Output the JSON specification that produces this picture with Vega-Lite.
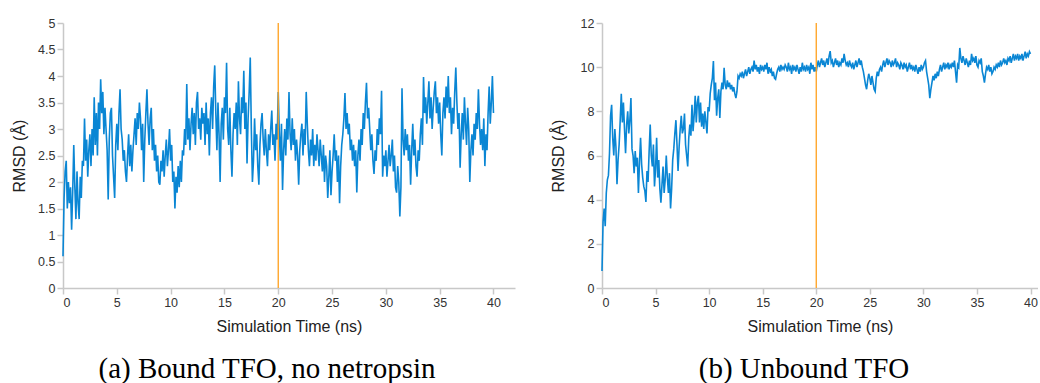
{
"$schema":"https://vega.github.io/schema/vega-lite/v6.json",
"padding":{"left":11,"top":17,"right":0,"bottom":0},
"background":"white",
"spacing":35,
"config":{"view":{"stroke":null},
"axis":{"grid":false,"domainColor":"#c8c8c8","domainWidth":1.5,"tickColor":"#c8c8c8","tickSize":6,"tickWidth":1.5,"labelFont":"Liberation Sans","labelFontSize":12.5,"labelColor":"#333333","labelPadding":2,"titleFont":"Liberation Sans","titleFontSize":16,"titleFontWeight":"normal","titleColor":"#222222"},
"title":{"font":"Liberation Serif","fontSize":29,"fontWeight":"normal","color":"#000000","orient":"bottom","offset":20}},
"datasets":{"marker":[{"t":20}],"rmsd":[
{"t":0,"a":0.6,"b":0.77},{"t":0.1,"a":1.7,"b":3.0},{"t":0.2,"a":2.2,"b":3.6},{"t":0.3,"a":2.4,"b":2.8},{"t":0.4,"a":1.5,"b":4.3},{"t":0.5,"a":2.0,"b":4.9},{"t":0.6,"a":1.6,"b":5.1},{"t":0.7,"a":1.9,"b":6.1},{"t":0.8,"a":1.1,"b":7.8},{"t":0.9,"a":1.8,"b":8.3},
{"t":1,"a":2.7,"b":6.8},{"t":1.1,"a":1.9,"b":6.0},{"t":1.2,"a":1.3,"b":7.2},{"t":1.3,"a":2.2,"b":6.4},{"t":1.4,"a":1.6,"b":4.7},{"t":1.5,"a":1.3,"b":5.8},{"t":1.6,"a":2.1,"b":6.5},{"t":1.7,"a":1.7,"b":7.6},{"t":1.8,"a":2.4,"b":8.8},{"t":1.9,"a":2.3,"b":7.5},
{"t":2,"a":3.2,"b":8.4},{"t":2.1,"a":2.4,"b":7.2},{"t":2.2,"a":2.8,"b":6.1},{"t":2.3,"a":2.1,"b":7.4},{"t":2.4,"a":2.6,"b":8.0},{"t":2.5,"a":2.9,"b":7.0},{"t":2.6,"a":2.3,"b":7.6},{"t":2.7,"a":3.0,"b":8.6},{"t":2.8,"a":2.5,"b":6.3},{"t":2.9,"a":3.6,"b":6.0},
{"t":3,"a":2.7,"b":5.2},{"t":3.1,"a":3.3,"b":6.2},{"t":3.2,"a":2.5,"b":5.5},{"t":3.3,"a":3.5,"b":5.9},{"t":3.4,"a":3.0,"b":4.3},{"t":3.5,"a":3.94,"b":5.7},{"t":3.6,"a":3.3,"b":6.8},{"t":3.7,"a":3.7,"b":5.6},{"t":3.8,"a":2.9,"b":5.0},{"t":3.9,"a":3.4,"b":4.6},
{"t":4,"a":3.0,"b":4.4},{"t":4.1,"a":2.6,"b":3.9},{"t":4.2,"a":1.67,"b":5.3},{"t":4.3,"a":2.8,"b":4.8},{"t":4.4,"a":3.3,"b":6.2},{"t":4.5,"a":3.4,"b":7.4},{"t":4.6,"a":2.5,"b":6.0},{"t":4.7,"a":2.1,"b":5.5},{"t":4.8,"a":1.7,"b":6.5},{"t":4.9,"a":2.7,"b":4.6},
{"t":5,"a":3.1,"b":5.4},{"t":5.1,"a":2.6,"b":6.8},{"t":5.2,"a":3.3,"b":5.0},{"t":5.3,"a":3.75,"b":5.8},{"t":5.4,"a":3.0,"b":4.5},{"t":5.5,"a":2.8,"b":3.86},{"t":5.6,"a":2.4,"b":4.7},{"t":5.7,"a":2.6,"b":5.5},{"t":5.8,"a":2.2,"b":4.3},{"t":5.9,"a":2.0,"b":4.9},
{"t":6,"a":2.5,"b":6.0},{"t":6.1,"a":2.9,"b":5.0},{"t":6.2,"a":2.3,"b":4.3},{"t":6.3,"a":2.7,"b":5.2},{"t":6.4,"a":2.2,"b":3.6},{"t":6.5,"a":2.6,"b":4.5},{"t":6.6,"a":2.9,"b":5.8},{"t":6.7,"a":3.2,"b":6.3},{"t":6.8,"a":2.7,"b":7.0},{"t":6.9,"a":3.3,"b":7.6},
{"t":7,"a":3.0,"b":6.5},{"t":7.1,"a":3.5,"b":5.3},{"t":7.2,"a":3.2,"b":6.4},{"t":7.3,"a":2.6,"b":7.2},{"t":7.4,"a":3.1,"b":7.8},{"t":7.5,"a":2.0,"b":7.0},{"t":7.6,"a":2.8,"b":7.2},{"t":7.7,"a":3.3,"b":7.9},{"t":7.8,"a":3.75,"b":6.5},{"t":7.9,"a":3.1,"b":6.0},
{"t":8,"a":2.7,"b":5.5},{"t":8.1,"a":3.2,"b":6.8},{"t":8.2,"a":3.4,"b":7.4},{"t":8.3,"a":2.6,"b":6.9},{"t":8.4,"a":3.0,"b":8.3},{"t":8.5,"a":2.4,"b":7.1},{"t":8.6,"a":2.7,"b":7.8},{"t":8.7,"a":2.2,"b":8.7},{"t":8.8,"a":2.5,"b":7.5},{"t":8.9,"a":2.0,"b":8.4},
{"t":9,"a":1.95,"b":8.7},{"t":9.1,"a":2.4,"b":7.5},{"t":9.2,"a":2.2,"b":8.4},{"t":9.3,"a":2.6,"b":7.3},{"t":9.4,"a":2.1,"b":7.9},{"t":9.5,"a":2.5,"b":7.2},{"t":9.6,"a":2.8,"b":8.0},{"t":9.7,"a":2.3,"b":7.5},{"t":9.8,"a":2.6,"b":7.0},{"t":9.9,"a":3.0,"b":8.2},
{"t":10,"a":2.4,"b":8.0},{"t":10.1,"a":2.7,"b":8.8},{"t":10.2,"a":2.0,"b":9.2},{"t":10.3,"a":2.2,"b":9.5},{"t":10.4,"a":1.5,"b":10.28},{"t":10.5,"a":2.1,"b":8.5},{"t":10.6,"a":1.8,"b":9.3},{"t":10.7,"a":2.3,"b":7.8},{"t":10.8,"a":1.9,"b":8.6},{"t":10.9,"a":2.4,"b":9.0},
{"t":11,"a":2.0,"b":7.7},{"t":11.1,"a":2.6,"b":8.9},{"t":11.2,"a":2.5,"b":9.3},{"t":11.3,"a":3.0,"b":9.0},{"t":11.4,"a":2.7,"b":9.97},{"t":11.5,"a":3.85,"b":9.2},{"t":11.6,"a":2.8,"b":9.0},{"t":11.7,"a":3.2,"b":9.4},{"t":11.8,"a":2.6,"b":9.1},{"t":11.9,"a":3.1,"b":9.3},
{"t":12,"a":3.4,"b":9.0},{"t":12.1,"a":2.9,"b":9.2},{"t":12.2,"a":3.3,"b":8.9},{"t":12.3,"a":2.7,"b":9.1},{"t":12.4,"a":3.5,"b":8.8},{"t":12.5,"a":3.7,"b":8.6},{"t":12.6,"a":3.0,"b":8.9},{"t":12.7,"a":3.2,"b":9.6},{"t":12.8,"a":2.8,"b":9.5},{"t":12.9,"a":3.4,"b":9.7},
{"t":13,"a":3.1,"b":9.6},{"t":13.1,"a":3.3,"b":9.8},{"t":13.2,"a":2.7,"b":9.5},{"t":13.3,"a":3.5,"b":9.7},{"t":13.4,"a":2.9,"b":9.9},{"t":13.5,"a":3.2,"b":9.6},{"t":13.6,"a":2.5,"b":9.8},{"t":13.7,"a":3.3,"b":10.0},{"t":13.8,"a":3.6,"b":9.7},{"t":13.9,"a":3.0,"b":9.9},
{"t":14,"a":3.8,"b":10.0},{"t":14.1,"a":4.2,"b":9.8},{"t":14.2,"a":3.3,"b":10.3},{"t":14.3,"a":2.6,"b":9.9},{"t":14.4,"a":3.5,"b":10.1},{"t":14.5,"a":2.9,"b":9.8},{"t":14.6,"a":2.0,"b":10.0},{"t":14.7,"a":3.1,"b":9.7},{"t":14.8,"a":3.4,"b":10.1},{"t":14.9,"a":2.8,"b":9.9},
{"t":15,"a":3.6,"b":10.0},{"t":15.1,"a":3.3,"b":9.8},{"t":15.2,"a":4.25,"b":10.1},{"t":15.3,"a":3.0,"b":9.9},{"t":15.4,"a":2.7,"b":10.2},{"t":15.5,"a":3.4,"b":9.7},{"t":15.6,"a":2.6,"b":10.0},{"t":15.7,"a":2.1,"b":9.8},{"t":15.8,"a":2.9,"b":9.9},{"t":15.9,"a":3.3,"b":9.6},
{"t":16,"a":3.0,"b":9.8},{"t":16.1,"a":3.5,"b":9.5},{"t":16.2,"a":2.7,"b":9.45},{"t":16.3,"a":3.9,"b":9.7},{"t":16.4,"a":3.2,"b":9.9},{"t":16.5,"a":2.9,"b":10.0},{"t":16.6,"a":3.6,"b":9.8},{"t":16.7,"a":3.3,"b":10.1},{"t":16.8,"a":4.1,"b":9.9},{"t":16.9,"a":3.0,"b":10.0},
{"t":17,"a":3.5,"b":9.9},{"t":17.1,"a":2.35,"b":10.1},{"t":17.2,"a":3.2,"b":10.0},{"t":17.3,"a":3.7,"b":9.8},{"t":17.4,"a":4.35,"b":10.2},{"t":17.5,"a":3.0,"b":9.9},{"t":17.6,"a":2.0,"b":10.0},{"t":17.7,"a":2.4,"b":9.7},{"t":17.8,"a":3.2,"b":10.1},{"t":17.9,"a":2.6,"b":9.9},
{"t":18,"a":2.9,"b":10.0},{"t":18.1,"a":2.3,"b":9.8},{"t":18.2,"a":1.95,"b":10.1},{"t":18.3,"a":2.7,"b":9.9},{"t":18.4,"a":3.1,"b":9.7},{"t":18.5,"a":3.3,"b":10.0},{"t":18.6,"a":2.8,"b":9.8},{"t":18.7,"a":2.5,"b":10.2},{"t":18.8,"a":3.0,"b":9.9},{"t":18.9,"a":2.6,"b":10.0},
{"t":19,"a":2.3,"b":9.8},{"t":19.1,"a":2.9,"b":10.1},{"t":19.2,"a":2.6,"b":9.9},{"t":19.3,"a":3.0,"b":10.0},{"t":19.4,"a":3.35,"b":9.7},{"t":19.5,"a":2.7,"b":10.2},{"t":19.6,"a":2.9,"b":9.9},{"t":19.7,"a":2.4,"b":10.1},{"t":19.8,"a":3.1,"b":9.8},{"t":19.9,"a":2.8,"b":10.0},
{"t":20,"a":3.7,"b":9.8},{"t":20.1,"a":2.9,"b":10.1},{"t":20.2,"a":2.4,"b":10.3},{"t":20.3,"a":3.1,"b":10.0},{"t":20.4,"a":1.85,"b":10.2},{"t":20.5,"a":2.6,"b":10.4},{"t":20.6,"a":3.0,"b":10.1},{"t":20.7,"a":2.5,"b":10.3},{"t":20.8,"a":3.2,"b":10.0},{"t":20.9,"a":2.8,"b":10.2},
{"t":21,"a":3.7,"b":10.4},{"t":21.1,"a":2.9,"b":10.1},{"t":21.2,"a":2.6,"b":10.5},{"t":21.3,"a":3.2,"b":10.73},{"t":21.4,"a":2.7,"b":10.2},{"t":21.5,"a":3.0,"b":10.3},{"t":21.6,"a":2.4,"b":10.0},{"t":21.7,"a":2.8,"b":10.2},{"t":21.8,"a":2.5,"b":10.4},{"t":21.9,"a":1.95,"b":10.1},
{"t":22,"a":2.6,"b":10.3},{"t":22.1,"a":2.9,"b":10.0},{"t":22.2,"a":3.1,"b":10.2},{"t":22.3,"a":2.5,"b":10.1},{"t":22.4,"a":3.0,"b":10.4},{"t":22.5,"a":2.7,"b":10.2},{"t":22.6,"a":3.7,"b":10.6},{"t":22.7,"a":3.1,"b":10.3},{"t":22.8,"a":2.6,"b":10.1},{"t":22.9,"a":2.3,"b":10.2},
{"t":23,"a":2.8,"b":10.0},{"t":23.1,"a":2.5,"b":10.3},{"t":23.2,"a":3.0,"b":10.1},{"t":23.3,"a":2.3,"b":10.0},{"t":23.4,"a":2.7,"b":10.2},{"t":23.5,"a":2.4,"b":9.9},{"t":23.6,"a":2.9,"b":10.1},{"t":23.7,"a":2.6,"b":10.3},{"t":23.8,"a":2.3,"b":10.0},{"t":23.9,"a":2.8,"b":10.2},
{"t":24,"a":2.5,"b":10.4},{"t":24.1,"a":2.2,"b":10.1},{"t":24.2,"a":2.7,"b":10.3},{"t":24.3,"a":2.0,"b":10.0},{"t":24.4,"a":2.5,"b":9.8},{"t":24.5,"a":2.3,"b":9.5},{"t":24.6,"a":1.7,"b":9.2},{"t":24.7,"a":2.1,"b":9.0},{"t":24.8,"a":2.6,"b":9.4},{"t":24.9,"a":1.75,"b":9.7},
{"t":25,"a":2.2,"b":9.5},{"t":25.1,"a":2.5,"b":9.2},{"t":25.2,"a":2.9,"b":9.6},{"t":25.3,"a":2.4,"b":9.3},{"t":25.4,"a":2.6,"b":9.0},{"t":25.5,"a":2.0,"b":8.9},{"t":25.6,"a":2.5,"b":9.5},{"t":25.7,"a":1.6,"b":9.8},{"t":25.8,"a":2.3,"b":9.6},{"t":25.9,"a":2.7,"b":9.9},
{"t":26,"a":2.9,"b":10.0},{"t":26.1,"a":3.2,"b":9.8},{"t":26.2,"a":3.68,"b":10.1},{"t":26.3,"a":3.0,"b":10.3},{"t":26.4,"a":3.3,"b":10.0},{"t":26.5,"a":2.9,"b":10.2},{"t":26.6,"a":3.1,"b":10.4},{"t":26.7,"a":2.6,"b":10.1},{"t":26.8,"a":2.8,"b":10.3},{"t":26.9,"a":2.4,"b":10.2},
{"t":27,"a":2.7,"b":10.0},{"t":27.1,"a":2.3,"b":10.3},{"t":27.2,"a":2.6,"b":10.1},{"t":27.3,"a":1.8,"b":10.2},{"t":27.4,"a":2.5,"b":10.4},{"t":27.5,"a":2.8,"b":10.0},{"t":27.6,"a":2.4,"b":10.2},{"t":27.7,"a":3.0,"b":10.1},{"t":27.8,"a":2.7,"b":9.9},{"t":27.9,"a":3.3,"b":10.2},
{"t":28,"a":3.0,"b":10.1},{"t":28.1,"a":3.5,"b":9.9},{"t":28.2,"a":3.87,"b":10.2},{"t":28.3,"a":3.2,"b":10.0},{"t":28.4,"a":3.4,"b":10.1},{"t":28.5,"a":3.0,"b":9.8},{"t":28.6,"a":2.6,"b":10.0},{"t":28.7,"a":2.9,"b":10.2},{"t":28.8,"a":2.4,"b":9.9},{"t":28.9,"a":2.15,"b":10.1},
{"t":29,"a":2.6,"b":9.9},{"t":29.1,"a":2.4,"b":10.0},{"t":29.2,"a":3.0,"b":9.8},{"t":29.3,"a":2.7,"b":10.1},{"t":29.4,"a":3.2,"b":9.9},{"t":29.5,"a":2.9,"b":9.7},{"t":29.6,"a":3.72,"b":10.0},{"t":29.7,"a":2.1,"b":9.8},{"t":29.8,"a":2.5,"b":10.1},{"t":29.9,"a":2.3,"b":9.9},
{"t":30,"a":2.6,"b":10.0},{"t":30.1,"a":2.1,"b":10.2},{"t":30.2,"a":2.4,"b":10.3},{"t":30.3,"a":2.7,"b":9.8},{"t":30.4,"a":2.3,"b":9.5},{"t":30.5,"a":2.5,"b":9.2},{"t":30.6,"a":2.8,"b":8.6},{"t":30.7,"a":2.2,"b":9.0},{"t":30.8,"a":2.5,"b":9.3},{"t":30.9,"a":1.9,"b":9.6},
{"t":31,"a":1.8,"b":9.4},{"t":31.1,"a":2.3,"b":9.7},{"t":31.2,"a":2.0,"b":9.5},{"t":31.3,"a":1.35,"b":9.8},{"t":31.4,"a":1.9,"b":9.6},{"t":31.5,"a":3.77,"b":9.9},{"t":31.6,"a":2.8,"b":10.1},{"t":31.7,"a":2.5,"b":9.8},{"t":31.8,"a":3.0,"b":10.0},{"t":31.9,"a":2.6,"b":10.2},
{"t":32,"a":2.9,"b":9.9},{"t":32.1,"a":2.4,"b":10.1},{"t":32.2,"a":2.7,"b":10.0},{"t":32.3,"a":1.95,"b":10.2},{"t":32.4,"a":2.6,"b":9.9},{"t":32.5,"a":3.1,"b":10.1},{"t":32.6,"a":2.5,"b":10.0},{"t":32.7,"a":2.8,"b":10.2},{"t":32.8,"a":2.3,"b":10.0},{"t":32.9,"a":2.1,"b":10.3},
{"t":33,"a":2.6,"b":9.8},{"t":33.1,"a":2.4,"b":9.3},{"t":33.2,"a":2.9,"b":10.1},{"t":33.3,"a":3.2,"b":10.0},{"t":33.4,"a":2.7,"b":10.87},{"t":33.5,"a":3.98,"b":10.4},{"t":33.6,"a":3.3,"b":10.2},{"t":33.7,"a":3.6,"b":10.5},{"t":33.8,"a":3.1,"b":10.3},{"t":33.9,"a":3.5,"b":10.1},
{"t":34,"a":3.9,"b":10.4},{"t":34.1,"a":3.2,"b":10.2},{"t":34.2,"a":3.6,"b":10.0},{"t":34.3,"a":3.0,"b":10.3},{"t":34.4,"a":3.4,"b":10.1},{"t":34.5,"a":3.7,"b":10.6},{"t":34.6,"a":3.9,"b":10.3},{"t":34.7,"a":3.3,"b":10.4},{"t":34.8,"a":3.6,"b":10.2},{"t":34.9,"a":3.1,"b":10.5},
{"t":35,"a":3.5,"b":10.1},{"t":35.1,"a":2.9,"b":10.0},{"t":35.2,"a":2.5,"b":10.3},{"t":35.3,"a":3.3,"b":10.2},{"t":35.4,"a":3.6,"b":10.4},{"t":35.5,"a":3.2,"b":9.8},{"t":35.6,"a":3.8,"b":9.6},{"t":35.7,"a":3.4,"b":9.3},{"t":35.8,"a":4.0,"b":9.7},{"t":35.9,"a":3.3,"b":10.0},
{"t":36,"a":3.6,"b":9.9},{"t":36.1,"a":2.9,"b":10.1},{"t":36.2,"a":3.4,"b":9.8},{"t":36.3,"a":3.1,"b":10.0},{"t":36.4,"a":3.7,"b":9.7},{"t":36.5,"a":4.16,"b":9.8},{"t":36.6,"a":3.5,"b":10.0},{"t":36.7,"a":3.0,"b":9.9},{"t":36.8,"a":3.3,"b":10.1},{"t":36.9,"a":2.27,"b":10.0},
{"t":37,"a":2.9,"b":10.2},{"t":37.1,"a":3.3,"b":10.0},{"t":37.2,"a":2.8,"b":10.3},{"t":37.3,"a":3.6,"b":10.1},{"t":37.4,"a":3.1,"b":10.2},{"t":37.5,"a":2.7,"b":10.4},{"t":37.6,"a":3.4,"b":10.2},{"t":37.7,"a":3.0,"b":10.3},{"t":37.8,"a":2.0,"b":10.1},{"t":37.9,"a":2.6,"b":10.4},
{"t":38,"a":2.9,"b":10.3},{"t":38.1,"a":2.5,"b":10.5},{"t":38.2,"a":3.1,"b":10.2},{"t":38.3,"a":2.8,"b":10.4},{"t":38.4,"a":3.3,"b":10.6},{"t":38.5,"a":3.0,"b":10.3},{"t":38.6,"a":3.75,"b":10.5},{"t":38.7,"a":3.1,"b":10.4},{"t":38.8,"a":2.7,"b":10.6},{"t":38.9,"a":3.0,"b":10.3},
{"t":39,"a":2.6,"b":10.5},{"t":39.1,"a":3.2,"b":10.4},{"t":39.2,"a":2.3,"b":10.6},{"t":39.3,"a":2.9,"b":10.3},{"t":39.4,"a":2.6,"b":10.5},{"t":39.5,"a":3.3,"b":10.7},{"t":39.6,"a":3.8,"b":10.4},{"t":39.7,"a":3.1,"b":10.6},{"t":39.8,"a":3.5,"b":10.5},{"t":39.9,"a":4.0,"b":10.7},
{"t":40,"a":3.3,"b":10.6}
]},
"hconcat":[
{"width":452,"height":265,"title":{"text":"(a) Bound TFO, no netropsin","dx":-22},
"layer":[
{"data":{"name":"rmsd"},"mark":{"type":"line","color":"#0a86d4","strokeWidth":1.6},
"encoding":{"x":{"field":"t","type":"quantitative","scale":{"domain":[0,42],"nice":false},"axis":{"values":[0,5,10,15,20,25,30,35,40],"labelExpr":"''+datum.value","title":"Simulation Time (ns)","titlePadding":10}},
"y":{"field":"a","type":"quantitative","scale":{"domain":[0,5],"nice":false},"axis":{"values":[0,0.5,1,1.5,2,2.5,3,3.5,4,4.5,5],"labelExpr":"''+datum.value","title":"RMSD (Å)","titlePadding":10}}}},
{"data":{"name":"marker"},"mark":{"type":"rule","color":"#ffa01c","strokeWidth":1.3},"encoding":{"x":{"field":"t","type":"quantitative"}}}
]},
{"width":436,"height":265,"title":{"text":"(b) Unbound TFO","dx":-16},
"layer":[
{"data":{"name":"rmsd"},"mark":{"type":"line","color":"#0a86d4","strokeWidth":1.6},
"encoding":{"x":{"field":"t","type":"quantitative","scale":{"domain":[0,40.7],"nice":false},"axis":{"values":[0,5,10,15,20,25,30,35,40],"labelExpr":"''+datum.value","title":"Simulation Time (ns)","titlePadding":10}},
"y":{"field":"b","type":"quantitative","scale":{"domain":[0,12],"nice":false},"axis":{"values":[0,2,4,6,8,10,12],"labelExpr":"''+datum.value","title":"RMSD (Å)","titlePadding":14}}}},
{"data":{"name":"marker"},"mark":{"type":"rule","color":"#ffa01c","strokeWidth":1.3},"encoding":{"x":{"field":"t","type":"quantitative"}}}
]}
]
}
